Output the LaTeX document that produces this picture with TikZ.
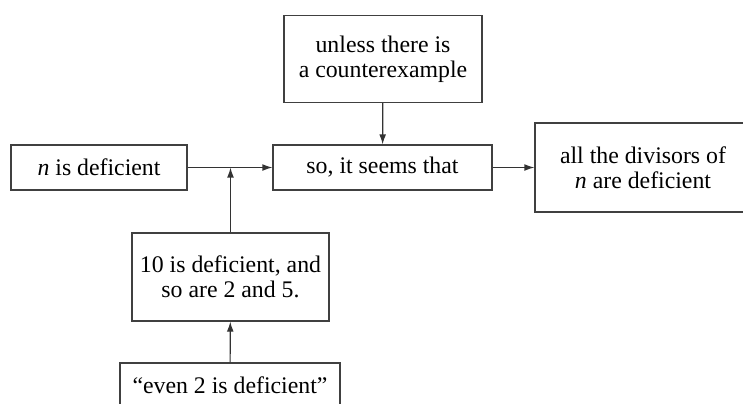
\documentclass[tikz,border=0pt]{standalone}
\usepackage{fontspec}
\setmainfont{Liberation Serif}
\usetikzlibrary{arrows.meta}

\begin{document}
\begin{tikzpicture}[
	x=0.5pt, y=-0.5pt,
	box/.style={
		draw=black!75, line width=0.6pt, align=center, inner sep=0pt,
		font=\fontsize{11.9}{12.5}\selectfont
	},
	flow/.style={
		draw=black!80, line width=0.6pt, -{Latex[length=5pt, width=3.4pt]}
	}
]
	\useasboundingbox (0, 0) rectangle (743, 403);
	% Boxes
	\node[box, minimum width=88pt, minimum height=22.5pt] (claim) at (99, 167.5) {\textit{n} is deficient};
	\node[box, minimum width=109.5pt, minimum height=22.5pt] (seems) at (382.5, 167.5) {so, it seems that};
	\node[box, minimum width=99pt, minimum height=43.5pt] (unless) at (383, 59) {unless there is\\a counterexample};
	\node[box, minimum width=108pt, minimum height=44.5pt] (divisors) at (643, 167.5) {all the divisors of\\\textit{n} are deficient};
	\node[box, minimum width=98.5pt, minimum height=44pt] (ten) at (230.5, 277) {10 is deficient, and\\so are 2 and 5.};
	\node[box, minimum width=110pt, minimum height=22.5pt] (even) at (230, 385.5) {``even 2 is deficient''};
	% Arrows
	\coordinate (join) at (ten.north |- claim.east);
	\draw[flow] (claim) -- (seems);
	\draw[flow] (unless) -- (seems);
	\draw[flow] (seems) -- (divisors);
	\draw[flow] (ten) -- (join);
	\draw[flow] (even) -- (ten);
\end{tikzpicture}
\end{document}
